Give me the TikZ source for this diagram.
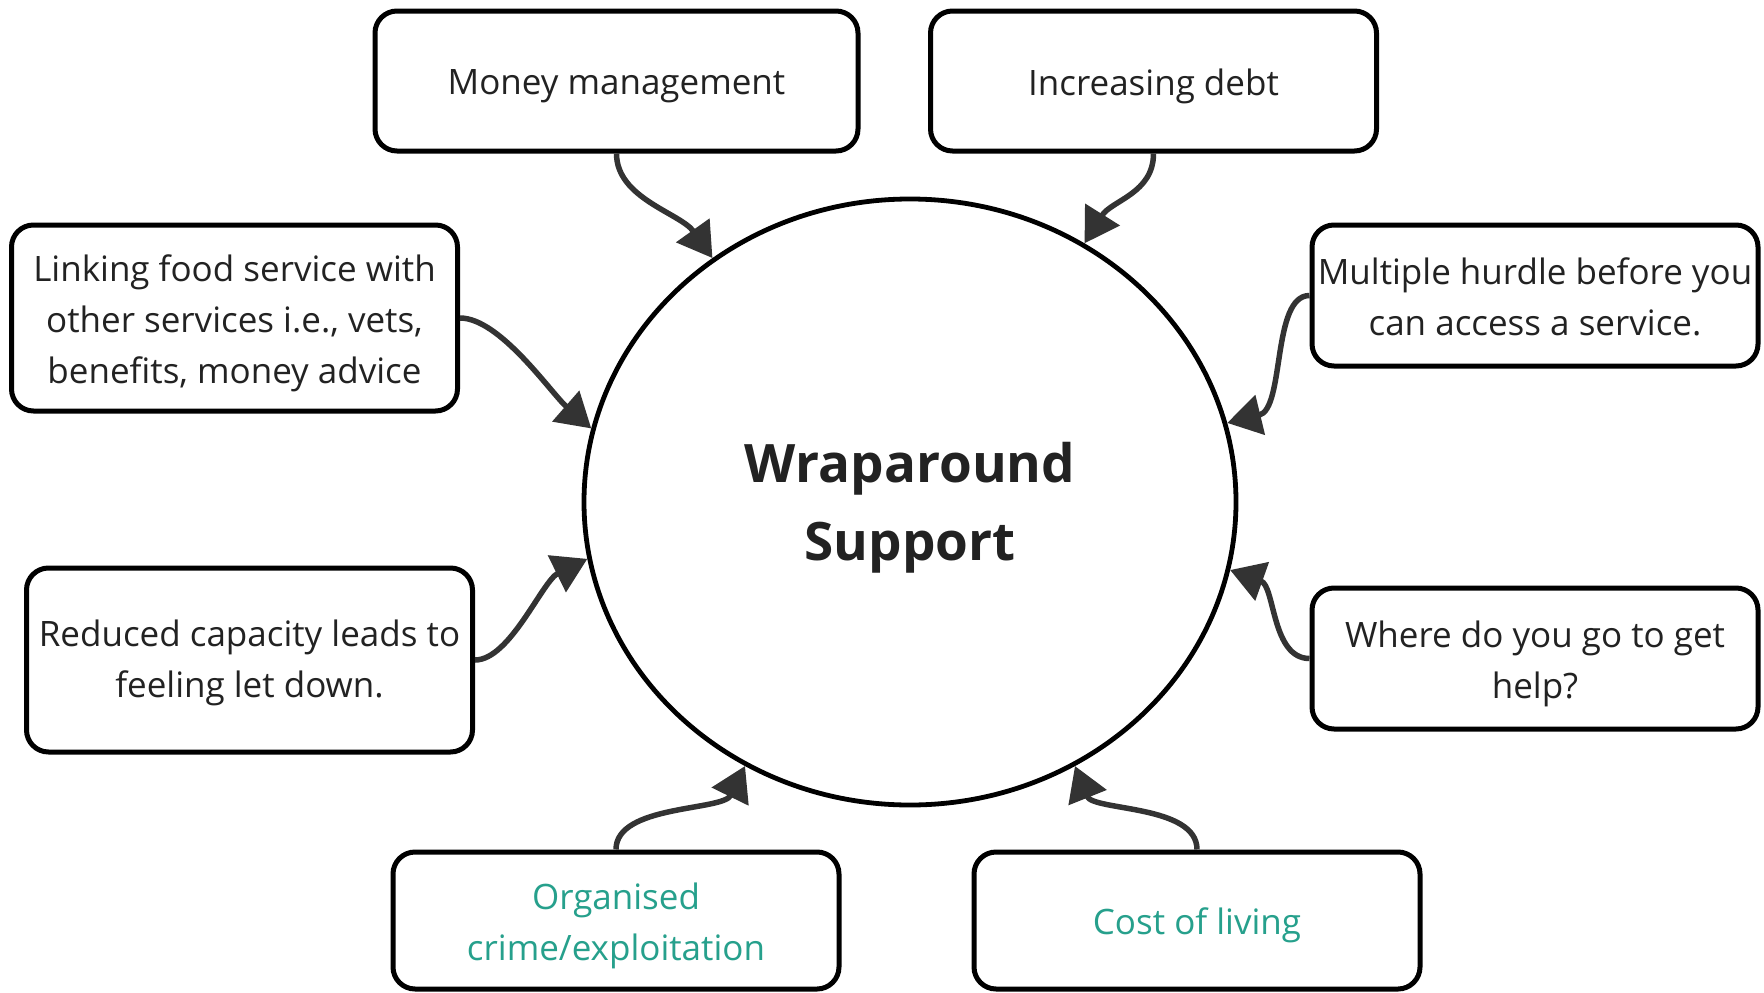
\documentclass[tikz,border=0pt]{standalone}
\usepackage{fontspec}
\setmainfont{Open Sans}
\usetikzlibrary{arrows.meta,shapes.geometric}
\definecolor{txtc}{HTML}{222222}
\definecolor{arrc}{HTML}{333333}
\definecolor{tealtxt}{RGB}{38,160,140}
\begin{document}
\begin{tikzpicture}[x=1pt,y=-1pt,
  box/.style={draw=black, line width=5pt, rounded corners=22pt, fill=white,
    inner sep=0pt, minimum width=446pt, minimum height=140pt},
  lbl/.style={align=center, inner sep=0pt, text=txtc, yshift=-5pt,
    font=\fontsize{35}{51}\selectfont},
  conn/.style={draw=arrc, line width=5.5pt, -{Triangle[length=34pt,width=40pt]}},
  hub/.style={ellipse, draw=black, line width=4.8pt, minimum width=652pt,
    minimum height=606pt, inner sep=0pt},
  hublbl/.style={align=center, inner sep=0pt, text=txtc, yshift=-6pt,
    font=\bfseries\fontsize{53}{78}\selectfont}
]
\useasboundingbox (0,0) rectangle (1764,993);

\node[hub] (ws) at (910,502) {};
\node[hublbl] (wst) at (ws.center) {Wraparound\\Support};

\node[box, minimum width=483pt] (mm) at (616.5,81) {};
\node[box] (db) at (1153.5,81) {};
\node[box, minimum height=186pt] (lk) at (234.5,318) {};
\node[box, minimum height=141pt] (mh) at (1535,295.5) {};
\node[box, minimum height=184pt] (rc) at (249.5,660) {};
\node[box, minimum height=141pt] (wh) at (1535,658.5) {};
\node[box, minimum height=137pt] (oc) at (616,920.5) {};
\node[box, minimum height=137pt] (cl) at (1197,920.5) {};

\node[lbl] (mmt) at (mm.center) {Money management};
\node[lbl] (dbt) at (db.center) {Increasing debt};
\node[lbl] (lkt) at (lk.center) {Linking food service with\\other services i.e., vets,\\benefits, money advice};
\node[lbl, yshift=4pt] (mht) at (mh.center) {Multiple hurdle before you\\can access a service.};
\node[lbl, yshift=2pt] (rct) at (rc.center) {Reduced capacity leads to\\feeling let down.};
\node[lbl] (wht) at (wh.center) {Where do you go to get\\help?};
\node[lbl, text=tealtxt] (oct) at (oc.center) {Organised\\crime/exploitation};
\node[lbl, text=tealtxt] (clt) at (cl.center) {Cost of living};

\draw[conn] (mm.south) .. controls +(0,45) and +(-32,-45) .. (ws.129.5);
\draw[conn] (db.south) .. controls +(0,40) and +(27,-43) .. (ws.56.3);
\draw[conn] (lk.east) .. controls +(40,0) and +(-40,-35) .. (ws.167);
\draw[conn] (mh.west) .. controls +(-38,0) and +(58,-14) .. (ws.14.5);
\draw[conn] (rc.east) .. controls +(35,0) and +(-45,22) .. (ws.-170.3);
\draw[conn] (wh.west) .. controls +(-38,0) and +(45,16) .. (ws.-12.9);
\draw[conn] (oc.north) .. controls +(0,-45) and +(-22,45) .. (ws.-122.9);
\draw[conn] (cl.north) .. controls +(0,-45) and +(18,45) .. (ws.-58.3);
\end{tikzpicture}
\end{document}
